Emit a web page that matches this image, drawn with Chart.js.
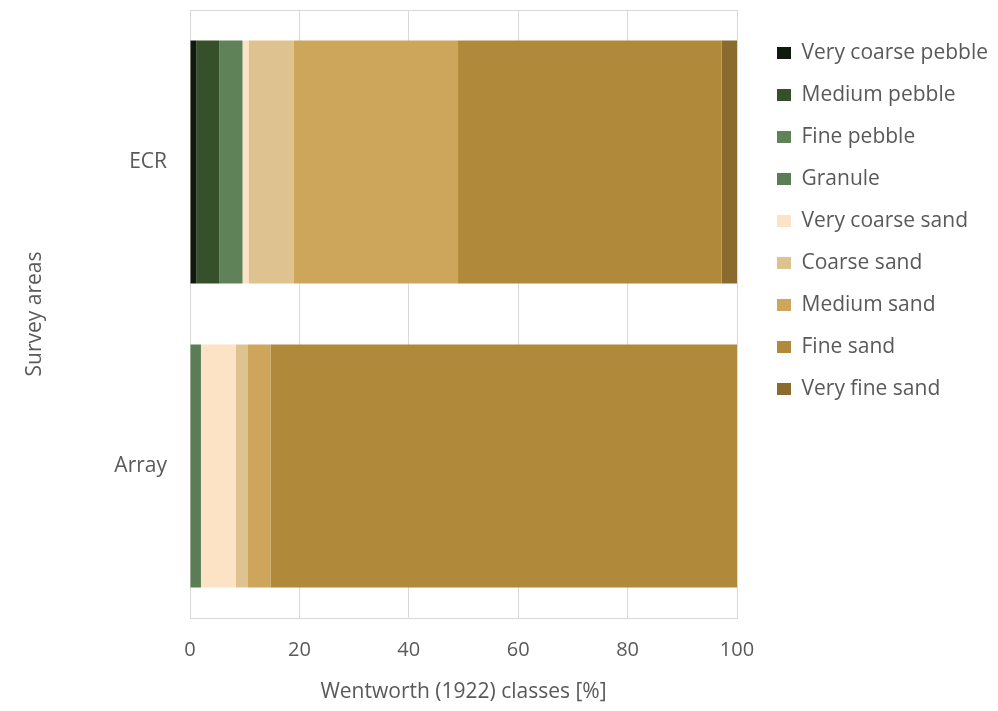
<!DOCTYPE html>
<html>
<head>
<meta charset="utf-8">
<script src="https://cdn.jsdelivr.net/npm/chart.js@4.4.1/dist/chart.umd.min.js"></script>
<style>
  html, body { margin: 0; padding: 0; background: #ffffff; }
  #wrap { position: relative; width: 998px; height: 711px; }
</style>
</head>
<body>
<div id="wrap"><canvas id="c" width="998" height="711"></canvas></div>
<script>
const categories = ["ECR", "Array"];
const classNames = ["Very coarse pebble", "Medium pebble", "Fine pebble", "Granule",
  "Very coarse sand", "Coarse sand", "Medium sand", "Fine sand", "Very fine sand"];
const veryCoarsePebble = [1.2, 0];
const mediumPebble     = [4.2, 0];
const finePebble       = [4.2, 0];
const granule          = [0, 2.0];
const veryCoarseSand   = [1.1, 6.4];
const coarseSand       = [8.3, 2.2];
const mediumSand       = [30.0, 4.1];
const fineSand         = [48.2, 85.3];
const veryFineSand     = [2.8, 0];
const xTicks = [0, 20, 40, 60, 80, 100];
const xTitle = "Wentworth (1922) classes [%]";
const yTitle = "Survey areas";

const seriesValues = [veryCoarsePebble, mediumPebble, finePebble, granule,
  veryCoarseSand, coarseSand, mediumSand, fineSand, veryFineSand];
const colors = ["#0e1a0b", "#36512a", "#5f8259", "#5a7d55",
  "#fde3c6", "#dec391", "#cda65c", "#b08a3a", "#8b6a2e"];

const FONT = "'Open Sans', 'Noto Sans', sans-serif";
const TXT = "#595959";
const GRID = "#d9d9d9";

const legendShift = {
  id: 'legendShift',
  afterLayout(chart) { if (chart.legend) { chart.legend.top += 11.5; chart.legend.bottom += 11.5; } }
};

new Chart(document.getElementById('c'), {
  type: 'bar',
  data: {
    labels: categories,
    datasets: classNames.map((n, i) => ({
      label: n,
      data: seriesValues[i],
      backgroundColor: colors[i],
      borderWidth: 0,
      categoryPercentage: 0.8,
      barPercentage: 1.0
    }))
  },
  options: {
    indexAxis: 'y',
    responsive: false,
    animation: false,
    devicePixelRatio: 1,
    layout: { padding: { top: 10, right: 0, bottom: 0, left: 0 } },
    plugins: {
      tooltip: { enabled: false },
      legend: {
        position: 'right',
        align: 'start',
        maxWidth: 242,
        labels: {
          boxWidth: 14,
          boxHeight: 12,
          padding: 21,
          color: TXT,
          font: { family: FONT, size: 21 }
        }
      }
    },
    scales: {
      x: {
        stacked: true,
        min: 0, max: 100,
        afterBuildTicks: (s) => { s.ticks = xTicks.map(v => ({ value: v })); },
        afterFit: (s) => { s.height = 93; },
        grid: { color: GRID, drawTicks: false },
        border: { color: GRID },
        ticks: { color: TXT, padding: 20, font: { family: FONT, size: 20 } },
        title: { display: true, text: xTitle, color: TXT, font: { family: FONT, size: 21 }, padding: { top: 0, bottom: 6 } }
      },
      y: {
        stacked: true,
        afterFit: (s) => { s.width = 190; s.paddingTop = 0; s.paddingBottom = 0; },
        grid: { color: (ctx) => (ctx.index === 1 ? 'rgba(0,0,0,0)' : GRID), drawTicks: false },
        border: { color: GRID },
        ticks: { color: TXT, padding: 23, font: { family: FONT, size: 21 } },
        title: { display: true, text: yTitle, color: TXT, font: { family: FONT, size: 21 }, padding: { top: 22, bottom: 0 } }
      },
      gap: {
        type: 'linear',
        position: 'right',
        display: true,
        afterFit: (s) => { s.width = 19; s.paddingTop = 0; s.paddingBottom = 0; },
        grid: { display: false },
        border: { display: false },
        ticks: { display: false }
      }
    }
  },
  plugins: [legendShift]
});
</script>
</body>
</html>
